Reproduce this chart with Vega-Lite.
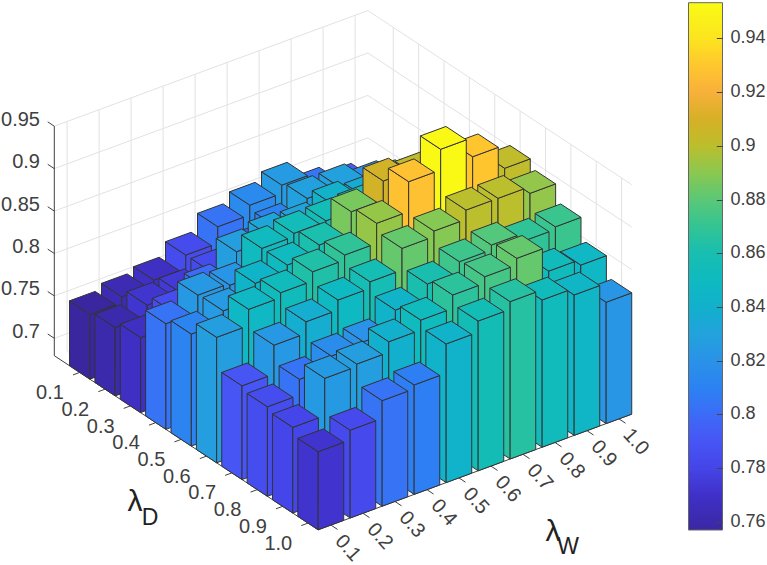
{
"$schema":"https://vega.github.io/schema/vega-lite/v6.json",
"width":767,"height":565,"padding":0,"autosize":"none","background":"white",
"view":{"stroke":null},
"config":{"font":"Liberation Sans"},
"resolve":{"scale":{"y":"independent"},"axis":{"y":"independent"}},
"datasets":{
"bars":[
{"D":0.1,"W":1.0,"value":0.785},{"D":0.1,"W":0.9,"value":0.7956},{"D":0.1,"W":0.8,"value":0.8049},{"D":0.1,"W":0.7,"value":0.8247},{"D":0.1,"W":0.6,"value":0.815},{"D":0.1,"W":0.5,"value":0.8035},{"D":0.1,"W":0.4,"value":0.784},{"D":0.1,"W":0.3,"value":0.7684},{"D":0.1,"W":0.2,"value":0.7627},{"D":0.1,"W":0.1,"value":0.756},
{"D":0.2,"W":1.0,"value":0.8},{"D":0.2,"W":0.9,"value":0.8185},{"D":0.2,"W":0.8,"value":0.8286},{"D":0.2,"W":0.7,"value":0.8287},{"D":0.2,"W":0.6,"value":0.81},{"D":0.2,"W":0.5,"value":0.795},{"D":0.2,"W":0.4,"value":0.784},{"D":0.2,"W":0.3,"value":0.7744},{"D":0.2,"W":0.2,"value":0.7725},{"D":0.2,"W":0.1,"value":0.76},
{"D":0.3,"W":1.0,"value":0.825},{"D":0.3,"W":0.9,"value":0.84},{"D":0.3,"W":0.8,"value":0.8366},{"D":0.3,"W":0.7,"value":0.8418},{"D":0.3,"W":0.6,"value":0.831},{"D":0.3,"W":0.5,"value":0.8331},{"D":0.3,"W":0.4,"value":0.8274},{"D":0.3,"W":0.3,"value":0.8},{"D":0.3,"W":0.2,"value":0.7845},{"D":0.3,"W":0.1,"value":0.768},
{"D":0.4,"W":1.0,"value":0.845},{"D":0.4,"W":0.9,"value":0.865},{"D":0.4,"W":0.8,"value":0.873},{"D":0.4,"W":0.7,"value":0.8575},{"D":0.4,"W":0.6,"value":0.8558},{"D":0.4,"W":0.5,"value":0.8549},{"D":0.4,"W":0.4,"value":0.8511},{"D":0.4,"W":0.3,"value":0.8216},{"D":0.4,"W":0.2,"value":0.8238},{"D":0.4,"W":0.1,"value":0.804},
{"D":0.5,"W":1.0,"value":0.875},{"D":0.5,"W":0.9,"value":0.905},{"D":0.5,"W":0.8,"value":0.902},{"D":0.5,"W":0.7,"value":0.9085},{"D":0.5,"W":0.6,"value":0.8862},{"D":0.5,"W":0.5,"value":0.8609},{"D":0.5,"W":0.4,"value":0.8512},{"D":0.5,"W":0.3,"value":0.8436},{"D":0.5,"W":0.2,"value":0.825},{"D":0.5,"W":0.1,"value":0.8115},
{"D":0.6,"W":1.0,"value":0.9015},{"D":0.6,"W":0.9,"value":0.929},{"D":0.6,"W":0.8,"value":0.9517},{"D":0.6,"W":0.7,"value":0.9274},{"D":0.6,"W":0.6,"value":0.8923},{"D":0.6,"W":0.5,"value":0.8688},{"D":0.6,"W":0.4,"value":0.863},{"D":0.6,"W":0.3,"value":0.8522},{"D":0.6,"W":0.2,"value":0.8465},{"D":0.6,"W":0.1,"value":0.8274},
{"D":0.7,"W":1.0,"value":0.8917},{"D":0.7,"W":0.9,"value":0.8997},{"D":0.7,"W":0.8,"value":0.8998},{"D":0.7,"W":0.7,"value":0.889},{"D":0.7,"W":0.6,"value":0.8825},{"D":0.7,"W":0.5,"value":0.857},{"D":0.7,"W":0.4,"value":0.8494},{"D":0.7,"W":0.3,"value":0.8377},{"D":0.7,"W":0.2,"value":0.824},{"D":0.7,"W":0.1,"value":0.79},
{"D":0.8,"W":1.0,"value":0.872},{"D":0.8,"W":0.9,"value":0.869},{"D":0.8,"W":0.8,"value":0.8783},{"D":0.8,"W":0.7,"value":0.8726},{"D":0.8,"W":0.6,"value":0.8602},{"D":0.8,"W":0.5,"value":0.8434},{"D":0.8,"W":0.4,"value":0.82},{"D":0.8,"W":0.3,"value":0.817},{"D":0.8,"W":0.2,"value":0.8035},{"D":0.8,"W":0.1,"value":0.785},
{"D":0.9,"W":1.0,"value":0.8466},{"D":0.9,"W":0.9,"value":0.8534},{"D":0.9,"W":0.8,"value":0.8824},{"D":0.9,"W":0.7,"value":0.8746},{"D":0.9,"W":0.6,"value":0.867},{"D":0.9,"W":0.5,"value":0.8513},{"D":0.9,"W":0.4,"value":0.8397},{"D":0.9,"W":0.3,"value":0.8273},{"D":0.9,"W":0.2,"value":0.8244},{"D":0.9,"W":0.1,"value":0.7805},
{"D":1.0,"W":1.0,"value":0.8225},{"D":1.0,"W":0.9,"value":0.845},{"D":1.0,"W":0.8,"value":0.853},{"D":1.0,"W":0.7,"value":0.865},{"D":1.0,"W":0.6,"value":0.856},{"D":1.0,"W":0.5,"value":0.8429},{"D":1.0,"W":0.4,"value":0.8085},{"D":1.0,"W":0.3,"value":0.8039},{"D":1.0,"W":0.2,"value":0.783},{"D":1.0,"W":0.1,"value":0.7715}
],
"grid":[
{"id":"z1","k":0,"d":0,"w":0.6,"z":0.7},{"id":"z1","k":1,"d":0,"w":10.4,"z":0.7},{"id":"z1","k":2,"d":10.4,"w":10.4,"z":0.7},
{"id":"z2","k":0,"d":0,"w":0.6,"z":0.75},{"id":"z2","k":1,"d":0,"w":10.4,"z":0.75},{"id":"z2","k":2,"d":10.4,"w":10.4,"z":0.75},
{"id":"z3","k":0,"d":0,"w":0.6,"z":0.8},{"id":"z3","k":1,"d":0,"w":10.4,"z":0.8},{"id":"z3","k":2,"d":10.4,"w":10.4,"z":0.8},
{"id":"z4","k":0,"d":0,"w":0.6,"z":0.85},{"id":"z4","k":1,"d":0,"w":10.4,"z":0.85},{"id":"z4","k":2,"d":10.4,"w":10.4,"z":0.85},
{"id":"z5","k":0,"d":0,"w":0.6,"z":0.9},{"id":"z5","k":1,"d":0,"w":10.4,"z":0.9},{"id":"z5","k":2,"d":10.4,"w":10.4,"z":0.9},
{"id":"z6","k":0,"d":0,"w":0.6,"z":0.95},{"id":"z6","k":1,"d":0,"w":10.4,"z":0.95},{"id":"z6","k":2,"d":10.4,"w":10.4,"z":0.95},
{"id":"w1","k":0,"d":10.4,"w":1,"z":0.6795},{"id":"w1","k":1,"d":0,"w":1,"z":0.6795},{"id":"w1","k":2,"d":0,"w":1,"z":0.95},
{"id":"w2","k":0,"d":10.4,"w":2,"z":0.6795},{"id":"w2","k":1,"d":0,"w":2,"z":0.6795},{"id":"w2","k":2,"d":0,"w":2,"z":0.95},
{"id":"w3","k":0,"d":10.4,"w":3,"z":0.6795},{"id":"w3","k":1,"d":0,"w":3,"z":0.6795},{"id":"w3","k":2,"d":0,"w":3,"z":0.95},
{"id":"w4","k":0,"d":10.4,"w":4,"z":0.6795},{"id":"w4","k":1,"d":0,"w":4,"z":0.6795},{"id":"w4","k":2,"d":0,"w":4,"z":0.95},
{"id":"w5","k":0,"d":10.4,"w":5,"z":0.6795},{"id":"w5","k":1,"d":0,"w":5,"z":0.6795},{"id":"w5","k":2,"d":0,"w":5,"z":0.95},
{"id":"w6","k":0,"d":10.4,"w":6,"z":0.6795},{"id":"w6","k":1,"d":0,"w":6,"z":0.6795},{"id":"w6","k":2,"d":0,"w":6,"z":0.95},
{"id":"w7","k":0,"d":10.4,"w":7,"z":0.6795},{"id":"w7","k":1,"d":0,"w":7,"z":0.6795},{"id":"w7","k":2,"d":0,"w":7,"z":0.95},
{"id":"w8","k":0,"d":10.4,"w":8,"z":0.6795},{"id":"w8","k":1,"d":0,"w":8,"z":0.6795},{"id":"w8","k":2,"d":0,"w":8,"z":0.95},
{"id":"w9","k":0,"d":10.4,"w":9,"z":0.6795},{"id":"w9","k":1,"d":0,"w":9,"z":0.6795},{"id":"w9","k":2,"d":0,"w":9,"z":0.95},
{"id":"w10","k":0,"d":10.4,"w":10,"z":0.6795},{"id":"w10","k":1,"d":0,"w":10,"z":0.6795},{"id":"w10","k":2,"d":0,"w":10,"z":0.95},
{"id":"d1","k":0,"d":1,"w":0.6,"z":0.6795},{"id":"d1","k":1,"d":1,"w":10.4,"z":0.6795},{"id":"d1","k":2,"d":1,"w":10.4,"z":0.95},
{"id":"d2","k":0,"d":2,"w":0.6,"z":0.6795},{"id":"d2","k":1,"d":2,"w":10.4,"z":0.6795},{"id":"d2","k":2,"d":2,"w":10.4,"z":0.95},
{"id":"d3","k":0,"d":3,"w":0.6,"z":0.6795},{"id":"d3","k":1,"d":3,"w":10.4,"z":0.6795},{"id":"d3","k":2,"d":3,"w":10.4,"z":0.95},
{"id":"d4","k":0,"d":4,"w":0.6,"z":0.6795},{"id":"d4","k":1,"d":4,"w":10.4,"z":0.6795},{"id":"d4","k":2,"d":4,"w":10.4,"z":0.95},
{"id":"d5","k":0,"d":5,"w":0.6,"z":0.6795},{"id":"d5","k":1,"d":5,"w":10.4,"z":0.6795},{"id":"d5","k":2,"d":5,"w":10.4,"z":0.95},
{"id":"d6","k":0,"d":6,"w":0.6,"z":0.6795},{"id":"d6","k":1,"d":6,"w":10.4,"z":0.6795},{"id":"d6","k":2,"d":6,"w":10.4,"z":0.95},
{"id":"d7","k":0,"d":7,"w":0.6,"z":0.6795},{"id":"d7","k":1,"d":7,"w":10.4,"z":0.6795},{"id":"d7","k":2,"d":7,"w":10.4,"z":0.95},
{"id":"d8","k":0,"d":8,"w":0.6,"z":0.6795},{"id":"d8","k":1,"d":8,"w":10.4,"z":0.6795},{"id":"d8","k":2,"d":8,"w":10.4,"z":0.95},
{"id":"d9","k":0,"d":9,"w":0.6,"z":0.6795},{"id":"d9","k":1,"d":9,"w":10.4,"z":0.6795},{"id":"d9","k":2,"d":9,"w":10.4,"z":0.95},
{"id":"d10","k":0,"d":10,"w":0.6,"z":0.6795},{"id":"d10","k":1,"d":10,"w":10.4,"z":0.6795},{"id":"d10","k":2,"d":10,"w":10.4,"z":0.95}
],
"axis":[
{"id":"a","k":0,"d":0,"w":0.6,"z":0.95},{"id":"a","k":1,"d":0,"w":0.6,"z":0.6795},{"id":"a","k":2,"d":10.4,"w":0.6,"z":0.6795},{"id":"a","k":3,"d":10.4,"w":10.4,"z":0.6795},
{"id":"t1","k":0,"d":0,"w":0.6,"z":0.7},{"id":"t1","k":1,"d":-0.26,"w":0.6,"z":0.7},
{"id":"t2","k":0,"d":0,"w":0.6,"z":0.75},{"id":"t2","k":1,"d":-0.26,"w":0.6,"z":0.75},
{"id":"t3","k":0,"d":0,"w":0.6,"z":0.8},{"id":"t3","k":1,"d":-0.26,"w":0.6,"z":0.8},
{"id":"t4","k":0,"d":0,"w":0.6,"z":0.85},{"id":"t4","k":1,"d":-0.26,"w":0.6,"z":0.85},
{"id":"t5","k":0,"d":0,"w":0.6,"z":0.9},{"id":"t5","k":1,"d":-0.26,"w":0.6,"z":0.9},
{"id":"t6","k":0,"d":0,"w":0.6,"z":0.95},{"id":"t6","k":1,"d":-0.26,"w":0.6,"z":0.95},
{"id":"u1","k":0,"d":1,"w":0.6,"z":0.6795},{"id":"u1","k":1,"d":1,"w":0.39,"z":0.6795},
{"id":"u2","k":0,"d":2,"w":0.6,"z":0.6795},{"id":"u2","k":1,"d":2,"w":0.39,"z":0.6795},
{"id":"u3","k":0,"d":3,"w":0.6,"z":0.6795},{"id":"u3","k":1,"d":3,"w":0.39,"z":0.6795},
{"id":"u4","k":0,"d":4,"w":0.6,"z":0.6795},{"id":"u4","k":1,"d":4,"w":0.39,"z":0.6795},
{"id":"u5","k":0,"d":5,"w":0.6,"z":0.6795},{"id":"u5","k":1,"d":5,"w":0.39,"z":0.6795},
{"id":"u6","k":0,"d":6,"w":0.6,"z":0.6795},{"id":"u6","k":1,"d":6,"w":0.39,"z":0.6795},
{"id":"u7","k":0,"d":7,"w":0.6,"z":0.6795},{"id":"u7","k":1,"d":7,"w":0.39,"z":0.6795},
{"id":"u8","k":0,"d":8,"w":0.6,"z":0.6795},{"id":"u8","k":1,"d":8,"w":0.39,"z":0.6795},
{"id":"u9","k":0,"d":9,"w":0.6,"z":0.6795},{"id":"u9","k":1,"d":9,"w":0.39,"z":0.6795},
{"id":"u10","k":0,"d":10,"w":0.6,"z":0.6795},{"id":"u10","k":1,"d":10,"w":0.39,"z":0.6795},
{"id":"v1","k":0,"d":10.4,"w":1,"z":0.6795},{"id":"v1","k":1,"d":10.66,"w":1,"z":0.6795},
{"id":"v2","k":0,"d":10.4,"w":2,"z":0.6795},{"id":"v2","k":1,"d":10.66,"w":2,"z":0.6795},
{"id":"v3","k":0,"d":10.4,"w":3,"z":0.6795},{"id":"v3","k":1,"d":10.66,"w":3,"z":0.6795},
{"id":"v4","k":0,"d":10.4,"w":4,"z":0.6795},{"id":"v4","k":1,"d":10.66,"w":4,"z":0.6795},
{"id":"v5","k":0,"d":10.4,"w":5,"z":0.6795},{"id":"v5","k":1,"d":10.66,"w":5,"z":0.6795},
{"id":"v6","k":0,"d":10.4,"w":6,"z":0.6795},{"id":"v6","k":1,"d":10.66,"w":6,"z":0.6795},
{"id":"v7","k":0,"d":10.4,"w":7,"z":0.6795},{"id":"v7","k":1,"d":10.66,"w":7,"z":0.6795},
{"id":"v8","k":0,"d":10.4,"w":8,"z":0.6795},{"id":"v8","k":1,"d":10.66,"w":8,"z":0.6795},
{"id":"v9","k":0,"d":10.4,"w":9,"z":0.6795},{"id":"v9","k":1,"d":10.66,"w":9,"z":0.6795},
{"id":"v10","k":0,"d":10.4,"w":10,"z":0.6795},{"id":"v10","k":1,"d":10.66,"w":10,"z":0.6795}
],
"zlabels":[{"t":"0.7","z":0.7},{"t":"0.75","z":0.75},{"t":"0.8","z":0.8},{"t":"0.85","z":0.85},{"t":"0.9","z":0.9},{"t":"0.95","z":0.95}],
"dlabels":[{"t":"0.1","d":1},{"t":"0.2","d":2},{"t":"0.3","d":3},{"t":"0.4","d":4},{"t":"0.5","d":5},{"t":"0.6","d":6},{"t":"0.7","d":7},{"t":"0.8","d":8},{"t":"0.9","d":9},{"t":"1.0","d":10}],
"wlabels":[{"t":"0.1","w":1},{"t":"0.2","w":2},{"t":"0.3","w":3},{"t":"0.4","w":4},{"t":"0.5","w":5},{"t":"0.6","w":6},{"t":"0.7","w":7},{"t":"0.8","w":8},{"t":"0.9","w":9},{"t":"1.0","w":10}],
"titles":[{"t":"λ","d":6.747,"w":-2.227,"s":"big"},{"t":"D","d":7.572,"w":-2.413,"s":"sub"},{"t":"λ","d":13.80,"w":5.241,"s":"big"},{"t":"W","d":14.59,"w":5.086,"s":"sub"}],
"cticks":[{"v":0.76},{"v":0.78},{"v":0.8},{"v":0.82},{"v":0.84},{"v":0.86},{"v":0.88},{"v":0.9},{"v":0.92},{"v":0.94}]
},
"encoding":{
"x":{"field":"sx","type":"quantitative","axis":null,"scale":{"domain":[0,767],"nice":false,"zero":false}},
"y":{"field":"sy","type":"quantitative","axis":null,"scale":{"domain":[565,0],"nice":false,"zero":false}}
},
"layer":[
{"data":{"name":"grid"},
"transform":[{"calculate":"54.3+25.37*datum.d+32*(datum.w-0.6)","as":"sx"},{"calculate":"355.7+16.74*datum.d-11.8*(datum.w-0.6)-848.4*(datum.z-0.6795)","as":"sy"}],
"mark":{"type":"line","stroke":"#e2e2e2","strokeWidth":1},
"encoding":{"detail":{"field":"id","type":"nominal"},"order":{"field":"k","type":"quantitative"}}},
{"data":{"name":"axis"},
"transform":[{"calculate":"54.3+25.37*datum.d+32*(datum.w-0.6)","as":"sx"},{"calculate":"355.7+16.74*datum.d-11.8*(datum.w-0.6)-848.4*(datum.z-0.6795)","as":"sy"}],
"mark":{"type":"line","stroke":"#404040","strokeWidth":1},
"encoding":{"detail":{"field":"id","type":"nominal"},"order":{"field":"k","type":"quantitative"}}},
{"data":{"name":"bars"},
"transform":[
{"calculate":"round(datum.D*10)-1","as":"i"},{"calculate":"round(datum.W*10)-1","as":"j"},
{"calculate":"[0,1,2]","as":"f"},{"flatten":["f"]},
{"calculate":"[0,1,2,3,4]","as":"k"},{"flatten":["k"]},
{"calculate":"datum.i*100+datum.j*10+datum.f","as":"fid"},
{"calculate":"datum.i+0.6+0.8*[[0,1,1,0,0],[1,1,1,1,1],[0,1,1,0,0]][datum.f][datum.k]","as":"d"},
{"calculate":"datum.j+0.6+0.8*[[0,0,0,0,0],[0,1,1,0,0],[0,0,1,1,0]][datum.f][datum.k]","as":"w"},
{"calculate":"[[0,0,1,1,0],[0,0,1,1,0],[1,1,1,1,1]][datum.f][datum.k]?datum.value:0.6795","as":"z"},
{"calculate":"54.3+25.37*datum.d+32*(datum.w-0.6)","as":"sx"},
{"calculate":"355.7+16.74*datum.d-11.8*(datum.w-0.6)-848.4*(datum.z-0.6795)","as":"sy"}
],
"mark":{"type":"line","stroke":"#333333","strokeWidth":1,"strokeJoin":"miter"},
"encoding":{
"detail":{"field":"fid","type":"nominal"},
"order":{"field":"k","type":"quantitative"},
"fill":{"field":"value","type":"quantitative",
"scale":{"domain":[0.757,0.77,0.78,0.79,0.80,0.81,0.82,0.83,0.84,0.85,0.86,0.87,0.88,0.89,0.90,0.91,0.92,0.93,0.94,0.9533],"nice":false,"zero":false,"interpolate":"rgb",
"range":["#3A28A2","#4030C8","#4545E8","#4755F5","#3C6BF7","#2C82F2","#2A92E8","#22A2DC","#11B0CC","#0FBAC0","#18BEB0","#33C494","#5AC876","#8AC850","#BCBE2C","#D6B026","#F8B03A","#FFC72E","#FCE41F","#FAFB14"]},
"legend":{"orient":"none","legendX":688.5,"legendY":2.7,"title":null,"type":"gradient","direction":"vertical","gradientLength":527.3,"gradientThickness":34,"gradientStrokeColor":"#666666","gradientStrokeWidth":1,"values":[0.76,0.78,0.8,0.82,0.84,0.86,0.88,0.9,0.92,0.94],"format":".2~f","labelFontSize":18,"labelColor":"#404040","labelOffset":8,"labelOverlap":false,"labelFont":"Liberation Sans"}}
}},
{"data":{"name":"cticks"},
"transform":[{"calculate":"716.3","as":"sx"}],
"mark":{"type":"point","opacity":0,"size":1},
"encoding":{"y":{"field":"v","type":"quantitative","title":null,
"scale":{"domain":[0.74388,0.95431],"nice":false,"zero":false},
"axis":{"orient":"right","offset":-50.7,"domain":false,"labels":false,"grid":false,"title":null,"ticks":true,"tickSize":6,"tickColor":"#444444","tickWidth":1,"values":[0.76,0.78,0.8,0.82,0.84,0.86,0.88,0.9,0.92,0.94],"zindex":1}}}},
{"data":{"name":"zlabels"},
"transform":[{"calculate":"40","as":"sx"},{"calculate":"355.7-848.4*(datum.z-0.6795)-6.5","as":"sy"}],
"mark":{"type":"text","align":"right","baseline":"middle","fontSize":20,"fill":"#404040"},
"encoding":{"text":{"field":"t"}}},
{"data":{"name":"dlabels"},
"transform":[{"calculate":"54.3+25.37*datum.d-29.7","as":"sx"},{"calculate":"355.7+16.74*datum.d+20.6","as":"sy"}],
"mark":{"type":"text","align":"center","baseline":"middle","fontSize":20,"fill":"#404040"},
"encoding":{"text":{"field":"t"}}},
{"data":{"name":"wlabels"},
"transform":[{"calculate":"54.3+25.37*10.4+32*(datum.w-0.6)+17","as":"sx"},{"calculate":"355.7+16.74*10.4-11.8*(datum.w-0.6)+23","as":"sy"}],
"mark":{"type":"text","align":"center","baseline":"middle","fontSize":20,"fill":"#404040","angle":48},
"encoding":{"text":{"field":"t"}}},
{"data":{"name":"titles"},
"transform":[{"filter":"datum.s=='big'"},{"calculate":"54.3+25.37*datum.d+32*(datum.w-0.6)","as":"sx"},{"calculate":"355.7+16.74*datum.d-11.8*(datum.w-0.6)","as":"sy"}],
"mark":{"type":"text","align":"center","baseline":"middle","fontSize":30,"fill":"#222222"},
"encoding":{"text":{"field":"t"}}},
{"data":{"name":"titles"},
"transform":[{"filter":"datum.s=='sub'"},{"calculate":"54.3+25.37*datum.d+32*(datum.w-0.6)","as":"sx"},{"calculate":"355.7+16.74*datum.d-11.8*(datum.w-0.6)","as":"sy"}],
"mark":{"type":"text","align":"center","baseline":"middle","fontSize":23,"fill":"#222222"},
"encoding":{"text":{"field":"t"}}}
]
}
